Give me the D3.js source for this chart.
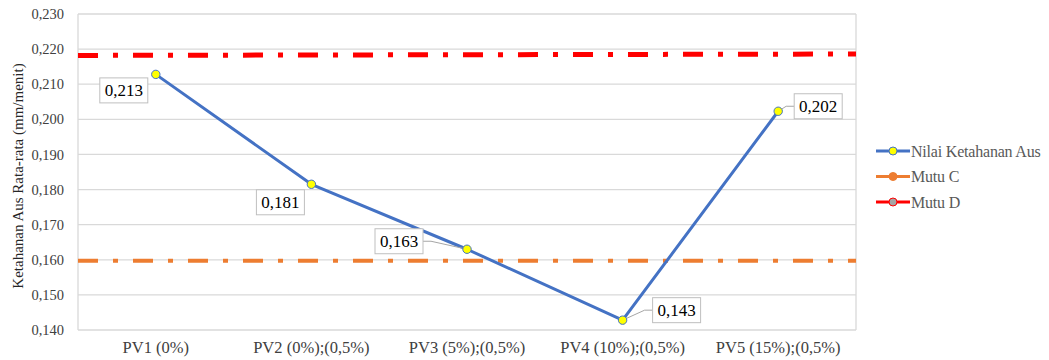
<!DOCTYPE html>
<html>
<head>
<meta charset="utf-8">
<script src="https://cdn.jsdelivr.net/npm/d3@7"></script>
<style>
  html, body { margin: 0; padding: 0; background: #fff; }
  svg text { font-family: "Liberation Serif", "Times New Roman", serif; }
</style>
</head>
<body>
<svg id="chart" width="1049" height="360"></svg>
<script>
// chart data
const categories = ["PV1 (0%)", "PV2 (0%);(0,5%)", "PV3 (5%);(0,5%)", "PV4 (10%);(0,5%)", "PV5 (15%);(0,5%)"];
const nilaiKetahanan = [0.2128, 0.1815, 0.1630, 0.1428, 0.2023];
const mutuC = [0.1597, 0.1597, 0.1597, 0.1597, 0.1597];
const mutuD = [0.2182, 0.2183, 0.2184, 0.2185, 0.2186];
const yTicks = [0.14, 0.15, 0.16, 0.17, 0.18, 0.19, 0.20, 0.21, 0.22, 0.23];
const seriesNames = ["Nilai Ketahanan Aus", "Mutu C", "Mutu D"];

// where each value label box sits relative to its point (dx, dy of box centre)
const labelOffsets = [[-32, 16], [-31, 18], [-68, -8], [54, -10], [40, -5]];
const labelLeader = [false, false, true, true, true];

const FONT = "'Liberation Serif', 'Times New Roman', serif";
const svg = d3.select("#chart");
const plot = { left: 78, right: 856, top: 14, bottom: 330 };

const BLUE = "#4472c4";
const ORANGE = "#ed7d31";
const RED = "#ff0000";
const GRID = "#d9d9d9";
const DASH = "20,15,5,15";

const x = d3.scaleBand().domain(categories).range([plot.left, plot.right]);
const xc = d => x(d) + x.bandwidth() / 2;
const y = d3.scaleLinear().domain([0.14, 0.23]).range([plot.bottom, plot.top]);
const fmt = v => d3.format(".3f")(v).replace(".", ",");

// horizontal gridlines
svg.append("g")
  .selectAll("line")
  .data(yTicks)
  .join("line")
  .attr("x1", plot.left).attr("x2", plot.right)
  .attr("y1", d => y(d)).attr("y2", d => y(d))
  .attr("stroke", GRID).attr("stroke-width", 1.3);

// plot area side borders
svg.append("g")
  .selectAll("line")
  .data([plot.left, plot.right])
  .join("line")
  .attr("x1", d => d).attr("x2", d => d)
  .attr("y1", plot.top).attr("y2", plot.bottom)
  .attr("stroke", GRID).attr("stroke-width", 1.3);

// y axis labels
const yAxis = d3.axisLeft(y).tickValues(yTicks).tickFormat(fmt).tickSize(0).tickPadding(14);
svg.append("g")
  .attr("transform", `translate(${plot.left},0)`)
  .call(yAxis)
  .call(g => g.select(".domain").remove())
  .selectAll("text")
  .style("font-family", FONT)
  .style("font-size", "14.5px")
  .attr("fill", "#404040");

// x axis labels
const xAxis = d3.axisBottom(x).tickSize(0).tickPadding(11);
svg.append("g")
  .attr("transform", `translate(0,${plot.bottom})`)
  .call(xAxis)
  .call(g => g.select(".domain").remove())
  .selectAll("text")
  .style("font-family", FONT)
  .style("font-size", "16.5px")
  .attr("fill", "#404040");

// y axis title
svg.append("text")
  .attr("transform", `translate(23,${(plot.top + plot.bottom) / 2 + 4}) rotate(-90)`)
  .attr("text-anchor", "middle")
  .style("font-family", FONT)
  .style("font-size", "15px")
  .attr("fill", "#262626")
  .text("Ketahanan Aus Rata-rata (mm/menit)");

// reference lines (Mutu C, Mutu D) drawn across the whole plot width
const refX = d3.scaleLinear().domain([0, categories.length - 1]).range([plot.left, plot.right]);
const refLine = d3.line().x((d, i) => refX(i)).y(d => y(d));

svg.append("path")
  .datum(mutuC)
  .attr("d", refLine)
  .attr("fill", "none")
  .attr("stroke", ORANGE)
  .attr("stroke-width", 4)
  .attr("stroke-dasharray", DASH);

svg.append("path")
  .datum(mutuD)
  .attr("d", refLine)
  .attr("fill", "none")
  .attr("stroke", RED)
  .attr("stroke-width", 5)
  .attr("stroke-dasharray", DASH);

// main series
const line = d3.line().x((d, i) => xc(categories[i])).y(d => y(d));
svg.append("path")
  .datum(nilaiKetahanan)
  .attr("d", line)
  .attr("fill", "none")
  .attr("stroke", BLUE)
  .attr("stroke-width", 3)
  .attr("stroke-linejoin", "round");

// value labels with optional leader lines
const boxW = 48, boxH = 25;
const labels = svg.append("g");
nilaiKetahanan.forEach((v, i) => {
  const px = xc(categories[i]), py = y(v);
  const cx = px + labelOffsets[i][0], cy = py + labelOffsets[i][1];
  if (labelLeader[i]) {
    const side = cx < px ? 1 : -1;
    const ex = cx + side * boxW / 2;
    labels.append("polyline")
      .attr("points", `${ex},${cy} ${ex + side * 8},${cy} ${px},${py}`)
      .attr("fill", "none")
      .attr("stroke", "#a6a6a6")
      .attr("stroke-width", 1);
  }
  labels.append("rect")
    .attr("x", cx - boxW / 2).attr("y", cy - boxH / 2)
    .attr("width", boxW).attr("height", boxH)
    .attr("fill", "#fff")
    .attr("stroke", "#bfbfbf").attr("stroke-width", 1);
  labels.append("text")
    .attr("x", cx).attr("y", cy)
    .attr("dy", "0.35em")
    .attr("text-anchor", "middle")
    .style("font-family", FONT)
    .style("font-size", "17px")
    .attr("fill", "#000")
    .text(fmt(v));
});

// markers on main series
svg.append("g")
  .selectAll("circle")
  .data(nilaiKetahanan)
  .join("circle")
  .attr("cx", (d, i) => xc(categories[i]))
  .attr("cy", d => y(d))
  .attr("r", 4.2)
  .attr("fill", "#ffff00")
  .attr("stroke", BLUE)
  .attr("stroke-width", 1);

// legend
const legendItems = [
  { name: seriesNames[0], line: BLUE, fill: "#ffff00", stroke: BLUE },
  { name: seriesNames[1], line: ORANGE, fill: ORANGE, stroke: ORANGE },
  { name: seriesNames[2], line: RED, fill: "#a5a5a5", stroke: RED }
];
const legend = svg.append("g")
  .selectAll("g")
  .data(legendItems)
  .join("g")
  .attr("transform", (d, i) => `translate(876,${151 + i * 25.5})`);

legend.append("line")
  .attr("x1", 0).attr("x2", 34)
  .attr("stroke", d => d.line)
  .attr("stroke-width", 3);
legend.append("circle")
  .attr("cx", 17).attr("r", 4)
  .attr("fill", d => d.fill)
  .attr("stroke", d => d.stroke)
  .attr("stroke-width", 1);
legend.append("text")
  .attr("x", 35).attr("dy", "0.35em")
  .style("font-family", FONT)
  .style("font-size", "16px")
  .style("letter-spacing", "-0.2px")
  .attr("fill", "#595959")
  .text(d => d.name);
</script>
</body>
</html>
